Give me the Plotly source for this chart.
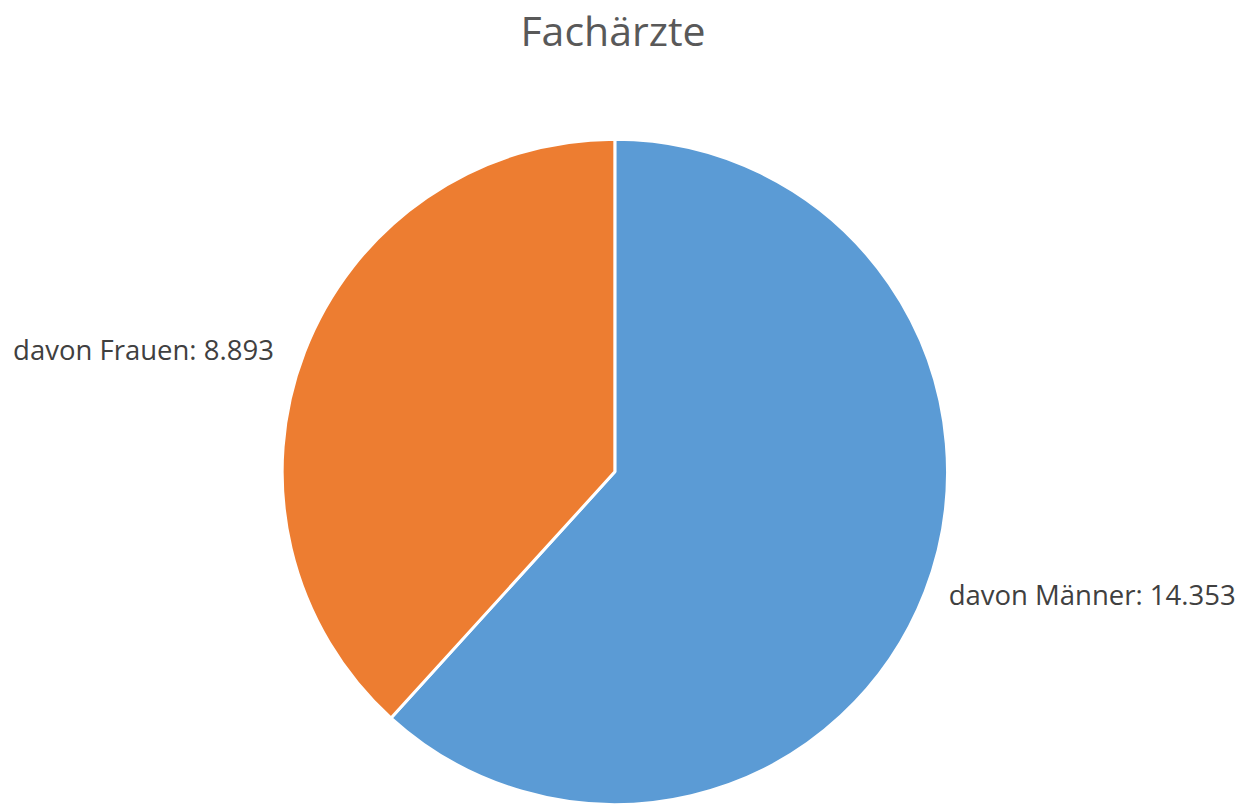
import plotly.graph_objects as go

title_text = "Fachärzte"
labels = ["davon Männer", "davon Frauen"]
values = [14353, 8893]
colors = ["#5B9BD5", "#ED7D31"]

# page body has an 8px margin; figure is a little wider so that the
# outside labels do not force the pie to shrink
W, H = 1300, 805
cx, cy, r = 602, 465, 335

templates = ["\u00a0\u00a0%{label}: %{value:,}", "%{label}: %{value:,}\u00a0\u00a0\u00a0"]

fig = go.Figure(
    go.Pie(
        labels=labels,
        values=values,
        sort=False,
        direction="clockwise",
        rotation=0,
        marker=dict(colors=colors, line=dict(color="white", width=3)),
        textposition="outside",
        texttemplate=templates,
        textfont=dict(family="Open Sans", size=27.5, color="#404040"),
        showlegend=False,
        domain=dict(x=[(cx - r) / W, (cx + r) / W], y=[(H - cy - r) / H, (H - cy + r) / H]),
    )
)

fig.update_layout(
    width=W,
    height=H,
    separators=",.",
    margin=dict(l=0, r=0, t=0, b=0),
    paper_bgcolor="white",
    plot_bgcolor="white",
    title=dict(
        text=title_text,
        x=(cx + 3) / W,
        xanchor="center",
        y=1 - 24 / H,
        yanchor="middle",
        font=dict(family="Open Sans", size=41, color="#595959"),
    ),
)

fig.write_html("out.html")
